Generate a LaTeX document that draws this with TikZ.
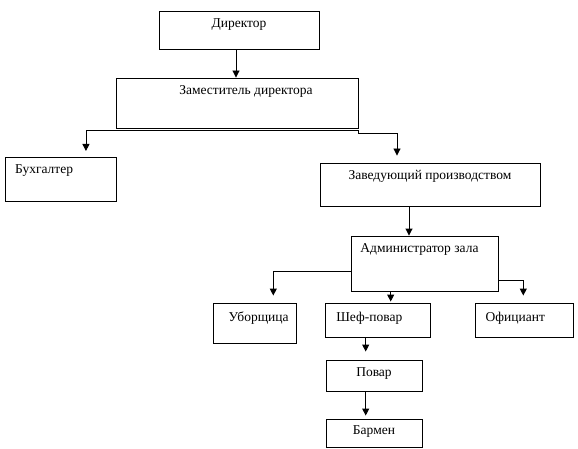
\documentclass[tikz,border=0pt]{standalone}
\usepackage{fontspec}
\setmainfont{Liberation Serif}
\usetikzlibrary{arrows.meta}
\begin{document}
\begin{tikzpicture}[x=1pt,y=-1pt,
  box/.style={draw, line width=0.9pt, inner sep=0pt},
  lab/.style={anchor=center, yshift=-14pt, font=\fontsize{13.5}{15}\selectfont, inner sep=0pt},
  arr/.style={draw, line width=0.9pt, -{Triangle[width=7pt,length=7pt]}}]
\useasboundingbox (0,0) rectangle (578,449);
\node[box, minimum width=160, minimum height=38, label={[lab]north:Директор}] (dir) at (239,30) {};
\node[box, minimum width=242, minimum height=50, label={[lab, xshift=9pt]north:Заместитель директора}] (zam) at (237,103) {};
\node[box, minimum width=111, minimum height=44, anchor=north west, label={[lab, anchor=west, xshift=10pt]north west:Бухгалтер}] (buh) at (5,157) {};
\node[box, minimum width=220, minimum height=43, label={[lab]north:Заведующий производством}] (zav) at (430,184.5) {};
\node[box, minimum width=147, minimum height=55, label={[lab, xshift=-5pt]north:Администратор зала}] (adm) at (424.5,263.5) {};
\node[box, minimum width=83, minimum height=40, label={[lab, yshift=-2pt, xshift=4pt]north:Уборщица}] (ubor) at (254.7,323) {};
\node[box, minimum width=105, minimum height=34, label={[lab, yshift=-2pt, xshift=-9pt]north:Шеф-повар}] (shef) at (378.3,320) {};
\node[box, minimum width=98, minimum height=34, label={[lab, yshift=-2pt, xshift=-9pt]north:Официант}] (ofic) at (524.3,320) {};
\node[box, minimum width=96, minimum height=31, label={[lab]north:Повар}] (povar) at (374,375.5) {};
\node[box, minimum width=96, minimum height=28, label={[lab, yshift=1pt]north:Бармен}] (barmen) at (374,433) {};
% connectors
\draw[arr] ([xshift=-3pt]dir.south) -- ([xshift=-3pt]dir.south |- zam.north);
\draw[arr, shorten >=6pt] ([yshift=-2pt]zam.south east) -| ([xshift=25pt]buh.north);
\draw[arr, shorten >=7pt] ([yshift=-2pt]zam.south east) -- ([yshift=-5pt]zam.south east) -| ([xshift=-33pt]zav.north);
\draw[arr] ([xshift=-21pt]zav.south) -- ([xshift=-21pt]zav.south |- adm.north);
\draw[arr, shorten >=7pt] ([yshift=-7.5pt]adm.west) -| ([xshift=18.6pt]ubor.north);
\draw[arr, shorten >=1pt] ([xshift=-33.8pt]adm.south) -- ([xshift=-33.8pt]adm.south |- shef.north);
\draw[arr, shorten >=7pt] ([yshift=-16.5pt]adm.east) -| ([xshift=-1pt]ofic.north);
\draw[arr, shorten >=8pt] ([xshift=-12.6pt]shef.south) -- ([xshift=-12.6pt]shef.south |- povar.north);
\draw[arr, shorten >=3pt] ([xshift=-8.3pt]povar.south) -- ([xshift=-8.3pt]povar.south |- barmen.north);
\end{tikzpicture}
\end{document}
